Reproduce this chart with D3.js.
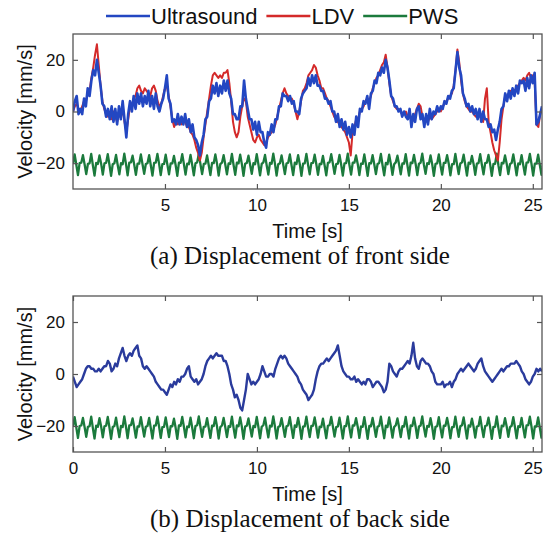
<!DOCTYPE html>
<html>
<head>
<meta charset="utf-8">
<script src="https://cdn.jsdelivr.net/npm/d3@7/dist/d3.min.js"></script>
<style>
  html, body { margin: 0; padding: 0; background: #fff; }
  svg { display: block; }
  text { font-family: "Liberation Sans", Arial, sans-serif; fill: #111; }
  .caption { font-family: "Liberation Serif", "Times New Roman", serif; }
</style>
</head>
<body>
<svg id="chart" width="547" height="540"></svg>
<script>
/*
 * Data
 * ========================================================================== */

// sample steps [s]
const DT = 0.1;
const PWS_DT = 0.09;

const seriesNames = ['Ultrasound', 'LDV', 'PWS'];
const xTicksFront = [5, 10, 15, 20, 25];
const xTicksBack = [0, 5, 10, 15, 20, 25];
const yTicks = [-20, 0, 20];
const captions = ['(a) Displacement of front side', '(b) Displacement of back side'];

// (a) front side, ultrasound velocity [mm/s], every 0.1 s
const frontUltrasound = [
  0, 4, 6, -1, 1, -1, 5, 2, 9, 6,
  12, 16, 14, 20, 15, 10, 3, 2, -2, 1,
  -3, 2, -4, 1, -5, 2, -3, 4, -3, -10,
  -1, 4, 0, 6, 1, 7, 3, 7, 2, 6,
  3, 8, 2, 6, 1, 7, 2, 0, 3, 5,
  9, 14, 5, 3, -4, -3, -5, -1, -5, -2,
  -5, -1, -6, -3, -8, -5, -10, -11, -13, -17,
  -12, -9, -3, -2, 4, 5, 10, 7, 11, 6,
  10, 7, 12, 8, 12, 7, 5, -1, -1, -3,
  -3, 2, 2, 12, 5, 1, -3, -3, -7, -4,
  -9, -4, -8, -8, -12, -14, -8, -9, -5, -8,
  -3, -3, 2, 2, 7, 6, 6, 4, 6, 3,
  4, 0, 0, -1, 5, 7, 8, 9, 13, 10,
  14, 11, 14, 10, 10, 8, 8, 5, 5, 3,
  4, 0, 0, -4, -1, -6, -3, -7, -4, -9,
  -6, -10, -5, -9, -2, -6, 1, 0, 4, 3,
  6, 1, 7, 8, 12, 11, 15, 14, 17, 15,
  20, 17, 12, 6, 5, 2, 2, 0, 1, -2,
  0, -2, -3, 1, -6, -1, -4, 1, 2, -3,
  -1, -6, -1, -5, 1, -3, 0, -1, 2, 0,
  2, 1, 4, 3, 6, 5, 8, 9, 16, 23,
  17, 14, 7, 5, 2, 3, 0, 2, -1, 1,
  -3, 1, -4, 0, -3, -3, -6, -5, -8, -7,
  -11, -7, -4, 1, 2, 7, 4, 8, 5, 9,
  6, 10, 7, 12, 11, 12, 8, 13, 9, 14,
  11, 15, -5, -4, -1, 2
];

// (a) front side, LDV velocity [mm/s], every 0.1 s
const frontLdv = [
  0, 2, 3, 1, 0, 2, 4, 4, 7, 8,
  13, 17, 22, 26, 18, 10, 4, 1, -1, -2,
  -1, -3, 0, -2, -4, -1, -2, 1, -4, -8,
  -3, 2, 2, 5, 6, 9, 10, 8, 7, 9,
  8, 7, 6, 9, 10, 8, 4, 2, 3, 6,
  9, 10, 6, 2, -3, -6, -4, -5, -3, -5,
  -4, -4, -6, -6, -8, -9, -11, -14, -16, -19,
  -16, -10, -5, 0, 5, 10, 14, 15, 14, 13,
  14, 13, 15, 15, 16, 11, 4, -4, -8, -10,
  -8, -2, 2, 5, 4, -2, -5, -8, -11, -12,
  -10, -9, -11, -12, -13, -12, -10, -9, -8, -7,
  -5, -2, 1, 4, 7, 9, 7, 6, 5, 5,
  3, 0, -3, 0, 4, 8, 9, 11, 14, 15,
  16, 18, 17, 14, 12, 9, 9, 7, 5, 4,
  2, 0, -2, -3, -4, -5, -6, -7, -8, -10,
  -12, -17, -8, -6, -3, -3, 0, 1, 2, 4,
  5, 4, 6, 9, 11, 13, 14, 16, 18, 19,
  22, 17, 11, 6, 4, 2, 1, 1, 0, -1,
  -1, 0, -2, -1, -3, -2, -1, 1, 3, 2,
  -2, -4, -3, -4, -2, -3, -2, -1, 0, 1,
  0, 2, 3, 4, 5, 6, 7, 10, 16, 24,
  19, 12, 7, 4, 2, 1, 0, 0, -1, -2,
  -2, -1, -3, -4, 5, 9, -4, -8, -12, -15,
  -17, -19, -12, -3, 2, 6, 6, 7, 8, 8,
  8, 9, 10, 11, 12, 13, 12, 14, 15, 13,
  14, 12, -5, -6, -1, 1
];

// PWS reference trace [mm/s], every 0.09 s (one beat per row)
const pws = [
  -20.2, -16.6, -20.6, -24.6, -20.0,
  -19.8, -16.9, -20.4, -24.2, -20.3,
  -20.1, -16.4, -20.8, -24.8, -19.9,
  -20.3, -17.0, -20.2, -24.4, -20.1,
  -19.9, -16.5, -20.5, -24.9, -20.4,
  -20.0, -16.8, -20.7, -24.3, -20.0,
  -20.4, -16.3, -20.3, -24.7, -19.8,
  -19.7, -17.1, -20.6, -24.5, -20.2,
  -20.2, -16.6, -20.4, -24.1, -20.3,
  -20.0, -16.9, -20.8, -24.8, -19.9,
  -19.8, -16.4, -20.2, -24.6, -20.4,
  -20.3, -16.7, -20.5, -24.3, -20.1,
  -20.1, -17.2, -20.7, -24.9, -19.8,
  -19.9, -16.5, -20.3, -24.4, -20.2,
  -20.4, -16.8, -20.6, -24.7, -20.0,
  -19.7, -16.3, -20.4, -24.2, -20.3,
  -20.2, -17.0, -20.8, -24.6, -19.9,
  -20.0, -16.6, -20.2, -24.8, -20.4,
  -19.8, -16.9, -20.5, -24.3, -20.1,
  -20.3, -16.4, -20.7, -24.5, -19.8,
  -20.1, -16.7, -20.3, -24.9, -20.2,
  -19.9, -17.1, -20.6, -24.1, -20.0,
  -20.4, -16.5, -20.4, -24.7, -20.3,
  -19.7, -16.8, -20.8, -24.4, -19.9,
  -20.2, -16.3, -20.2, -24.8, -20.4,
  -20.0, -17.0, -20.5, -24.2, -20.1,
  -19.8, -16.6, -20.7, -24.6, -19.8,
  -20.3, -16.9, -20.3, -24.9, -20.2,
  -20.1, -16.4, -20.6, -24.3, -20.0,
  -19.9, -16.7, -20.4, -24.5, -20.3,
  -20.4, -17.2, -20.8, -24.7, -19.9,
  -19.7, -16.5, -20.2, -24.1, -20.4,
  -20.2, -16.8, -20.5, -24.8, -20.1,
  -20.0, -16.3, -20.7, -24.4, -19.8,
  -19.8, -17.0, -20.3, -24.6, -20.2,
  -20.3, -16.6, -20.6, -24.9, -20.0,
  -20.1, -16.9, -20.4, -24.2, -20.3,
  -19.9, -16.4, -20.8, -24.7, -19.9,
  -20.4, -16.7, -20.2, -24.5, -20.4,
  -19.7, -17.1, -20.5, -24.3, -20.1,
  -20.2, -16.5, -20.7, -24.8, -19.8,
  -20.0, -16.8, -20.3, -24.6, -20.2,
  -19.8, -16.3, -20.6, -24.1, -20.0,
  -20.3, -17.0, -20.4, -24.9, -20.3,
  -20.1, -16.6, -20.8, -24.4, -19.9,
  -19.9, -16.9, -20.2, -24.7, -20.4,
  -20.4, -16.4, -20.5, -24.2, -20.1,
  -19.7, -16.7, -20.7, -24.8, -19.8,
  -20.2, -17.2, -20.3, -24.5, -20.2,
  -20.0, -16.5, -20.6, -24.3, -20.0,
  -19.8, -16.8, -20.4, -24.9, -20.3,
  -20.3, -16.3, -20.8, -24.6, -19.9,
  -20.1, -17.0, -20.2, -24.2, -20.4,
  -19.9, -16.6, -20.5, -24.7, -20.1,
  -20.4, -16.9, -20.7, -24.4, -19.8,
  -19.7, -16.4, -20.3, -24.8, -20.2,
  -20.2, -16.7, -20.6, -24.5, -20.0,
  -20.0, -17.1, -20.4, -24.3, -20.3
];

// (b) back side, ultrasound velocity [mm/s], every 0.1 s
const backUltrasound = [
  -1, -3, -5, -4, -3, -2, 0, 2, 3, 3,
  2, 2, 1, 1, 2, 1, 2, 3, 3, 5,
  4, 1, 2, 4, 3, 6, 8, 10, 7, 5,
  7, 8, 7, 9, 10, 11, 7, 6, 3, 2,
  3, 2, 1, 0, -1, -3, -4, -5, -6, -6,
  -7, -8, -6, -4, -5, -3, -4, -2, -3, -1,
  -1, 0, 2, 3, -1, -2, -3, -2, -4, -3,
  -2, 0, 3, 5, 6, 7, 6, 7, 8, 7,
  7, 7, 5, 5, 3, 0, -4, -6, -9, -8,
  -10, -13, -14, -10, -6, 0, -2, -4, -3, -4,
  -3, -2, 0, 3, 1, -1, -1, 0, 0, -1,
  2, 4, 6, 7, 6, 7, 6, 4, 3, 2,
  1, 0, -1, -3, -4, -6, -7, -8, -10, -9,
  -8, -6, -2, 1, 3, 4, 4, 5, 6, 5,
  6, 7, 8, 9, 11, 7, 3, 1, 0, -1,
  -1, -2, -2, -1, -3, -2, -3, -4, -3, -4,
  -2, -2, -3, -5, -4, -3, -3, -4, -5, -7,
  -6, -3, 4, 3, 1, 0, -1, 1, 2, 2,
  3, 4, 5, 4, 7, 12, 6, 3, 2, 5,
  6, 5, 4, 4, 3, 1, 0, -3, -4, -4,
  -4, -3, -5, -4, -4, -3, -5, -3, -2, 0,
  1, 2, 1, 2, 3, 4, 3, 2, 1, 2,
  4, 5, 6, 3, 1, 0, -1, -2, -3, -2,
  -1, 0, 1, 2, 1, 2, 3, 3, 4, 4,
  4, 5, 4, 3, 1, 0, -2, -3, -4, -3,
  -1, 0, 2, 1, 2, 1
];

/*
 * Layout
 * ========================================================================== */

const WIDTH = 547,
      HEIGHT = 540;
const colors = { Ultrasound: '#2347c2', LDV: '#d42a2a', PWS: '#1b7a3c' };
const backBlue = '#2a3b9c';

const svg = d3.select('#chart')
              .attr('viewBox', '0 0 ' + WIDTH + ' ' + HEIGHT);

svg.append('rect')
    .attr('width', WIDTH)
    .attr('height', HEIGHT)
    .attr('fill', '#fff');

const x = d3.scaleLinear()
            .domain([0, 25.5])
            .range([73, 542]);

const panels = [
  {
    top: 34, bottom: 189, ticks: xTicksFront, caption: captions[0],
    lines: [
      { values: pws, step: PWS_DT, color: colors.PWS, width: 2.3 },
      { values: frontLdv, step: DT, color: colors.LDV, width: 2 },
      { values: frontUltrasound, step: DT, color: colors.Ultrasound, width: 2.6 }
    ]
  },
  {
    top: 296, bottom: 452, ticks: xTicksBack, caption: captions[1],
    lines: [
      { values: pws, step: PWS_DT, color: colors.PWS, width: 2.3 },
      { values: backUltrasound, step: DT, color: backBlue, width: 2.4 }
    ]
  }
];

/*
 * Draw each panel
 * ========================================================================== */

panels.forEach( (p, k) => {
  let y = d3.scaleLinear()
            .domain([-30, 30])
            .range([p.bottom, p.top]);

  let g = svg.append('g');
  let x0 = x.range()[0],
      x1 = x.range()[1];

  g.append('clipPath')
      .attr('id', 'clip' + k)
    .append('rect')
      .attr('x', x0)
      .attr('y', p.top)
      .attr('width', x1 - x0)
      .attr('height', p.bottom - p.top);

  let plot = g.append('g').attr('clip-path', 'url(#clip' + k + ')');

  p.lines.forEach( l => {
    let line = d3.line()
                  .x( (d, i) => x(i * l.step) )
                  .y( d => y(d) );
    plot.append('path')
        .datum(l.values)
        .attr('d', line)
        .attr('fill', 'none')
        .attr('stroke', l.color)
        .attr('stroke-width', l.width)
        .attr('stroke-linejoin', 'round');
  });

  // axes, ticks pointing inward
  let axes = [
    d3.axisBottom(x).tickValues(p.ticks).tickSize(-5).tickPadding(10),
    d3.axisTop(x).tickValues(p.ticks).tickSize(-5).tickFormat(''),
    d3.axisLeft(y).tickValues(yTicks).tickSize(-5).tickPadding(8).tickFormat(d => d < 0 ? '\u2212' + (-d) : d),
    d3.axisRight(y).tickValues(yTicks).tickSize(-5).tickFormat('')
  ];
  let pos = [
    'translate(0,' + p.bottom + ')',
    'translate(0,' + p.top + ')',
    'translate(' + x0 + ',0)',
    'translate(' + x1 + ',0)'
  ];
  axes.forEach( (a, i) => {
    let ag = g.append('g')
              .attr('transform', pos[i])
              .call(a);
    ag.select('.domain').remove();
    ag.selectAll('line').attr('stroke', '#555').attr('stroke-width', 1.2);
    ag.selectAll('text')
        .attr('fill', '#111')
        .style('font-family', '"Liberation Sans", Arial, sans-serif')
        .style('font-size', '17px');
  });

  // frame
  g.append('rect')
      .attr('x', x0)
      .attr('y', p.top)
      .attr('width', x1 - x0)
      .attr('height', p.bottom - p.top)
      .attr('fill', 'none')
      .attr('stroke', '#555')
      .attr('stroke-width', 1.3);

  // axis labels
  g.append('text')
      .attr('transform', 'translate(25,' + y(0) + ') rotate(-90)')
      .attr('text-anchor', 'middle')
      .attr('dy', '0.35em')
      .style('font-size', '20px')
      .text('Velocity [mm/s]');

  g.append('text')
      .attr('x', (x0 + x1) / 2)
      .attr('y', p.bottom + 42)
      .attr('text-anchor', 'middle')
      .attr('dy', '0.35em')
      .style('font-size', '20px')
      .text('Time [s]');

  g.append('text')
      .attr('class', 'caption')
      .attr('x', 300)
      .attr('y', p.bottom + 66)
      .attr('text-anchor', 'middle')
      .attr('dy', '0.35em')
      .style('font-size', '25px')
      .text(p.caption);
});

/*
 * Legend
 * ========================================================================== */

let legend = svg.append('g').attr('transform', 'translate(0,16)');
let lx = 106;
seriesNames.forEach( name => {
  legend.append('line')
      .attr('x1', lx)
      .attr('x2', lx + 44)
      .attr('stroke', colors[name])
      .attr('stroke-width', 2.6);
  let t = legend.append('text')
      .attr('x', lx + 45)
      .attr('dy', '0.35em')
      .style('font-size', '22px')
      .text(name);
  lx += 45 + t.node().getComputedTextLength() + 9;
});
</script>
</body>
</html>
